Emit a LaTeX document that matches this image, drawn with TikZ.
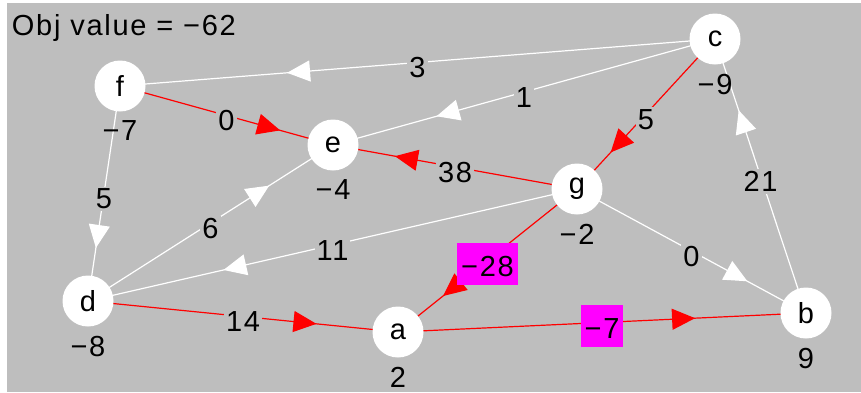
\documentclass[tikz,border=0pt]{standalone}
\usepackage{fontspec}
\setmainfont{Liberation Sans}[LetterSpace=6]
\usepackage{xcolor}
\usepackage{tikz}
\usetikzlibrary{arrows.meta,decorations.markings}
\pgfdeclarelayer{background}
\pgfsetlayers{background,main}

\definecolor{canvas}{RGB}{190,190,190}
\definecolor{hilite}{RGB}{255,0,255}

\begin{document}
\begin{tikzpicture}[x=0.5pt,y=-0.5pt,
    font=\fontsize{14.5}{17}\selectfont,
    vertex/.style={circle, fill=white, minimum size=25.5pt, inner sep=0pt, outer sep=0pt},
    every label/.style={inner sep=0pt, yshift=-4.5pt},
    arc/.style={line width=0.6pt, postaction={decorate},
        decoration={markings, mark=at position 0.7 with {\arrow[xshift=5.75pt]{Triangle[length=11.5pt,width=10.5pt]}}}},
    plain/.style={arc, color=white},
    tree/.style={arc, color=red},
    weight/.style={fill=canvas, text=black, inner sep=1pt, yshift=-2.75pt},
    negweight/.style={fill=hilite, text=black, inner xsep=2pt, inner ysep=4pt, text height=13pt, text depth=0pt, yshift=-1.6pt}]
    \useasboundingbox (0,0) rectangle (861,392);

    % Title
    \node[anchor=base west, inner sep=0pt] (title) at (11.5,35.5) {Obj value = −62};

    % Vertices with their values
    \node[vertex, label=below:−7] (f) at (120,86) {f};
    \node[vertex, label=below:−4] (e) at (333,145) {e};
    \node[vertex, label=below:−9] (c) at (715,39) {c};
    \node[vertex, label=below:−2] (g) at (577,189) {g};
    \node[vertex, label=below:−8] (d) at (88,301) {d};
    \node[vertex, label=below:2] (a) at (398,332) {a};
    \node[vertex, label=below:9] (b) at (806,313) {b};

    \begin{pgfonlayer}{background}
    \fill[canvas] (7,3) rectangle (861,392);

    % Arcs off the tree
    \draw[plain] (c.center) -- node[weight] {3} (f.center);
    \draw[plain] (c.center) -- node[weight] {1} (e.center);
    \draw[plain] (f.center) -- node[weight] {5} (d.center);
    \draw[plain] (d.center) -- node[weight] {6} (e.center);
    \draw[plain] (g.center) -- node[weight] {11} (d.center);
    \draw[plain] (g.center) -- node[weight] {0} (b.center);
    \draw[plain] (b.center) -- node[weight] {21} (c.center);

    % Tree arcs
    \draw[tree] (c.center) -- node[weight] {5} (g.center);
    \draw[tree] (f.center) -- node[weight] {0} (e.center);
    \draw[tree] (g.center) -- node[weight] {38} (e.center);
    \draw[tree] (g.center) -- node[negweight] {−28} (a.center);
    \draw[tree] (d.center) -- node[weight] {14} (a.center);
    \draw[tree] (a.center) -- node[negweight] {−7} (b.center);
    \end{pgfonlayer}
\end{tikzpicture}
\end{document}
